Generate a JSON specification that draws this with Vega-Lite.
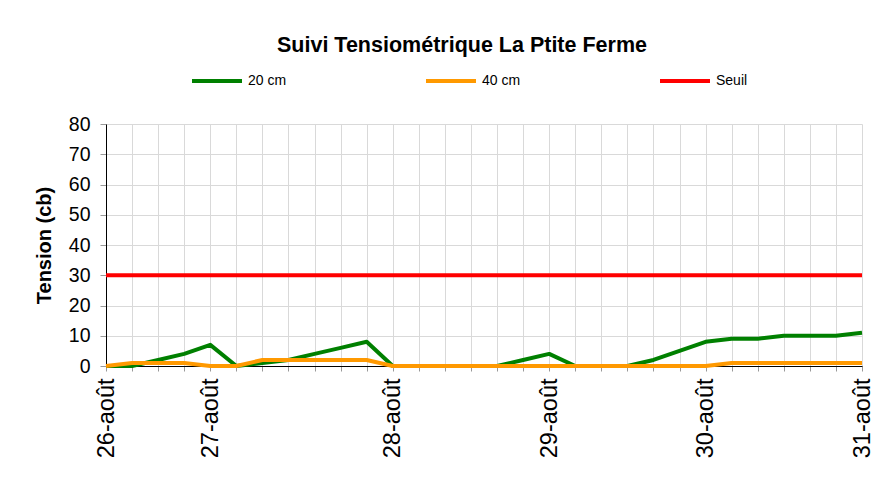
{
  "$schema": "https://vega.github.io/schema/vega-lite/v6.json",
  "autosize": "none",
  "width": 756,
  "height": 242,
  "padding": {"left": 106, "top": 124, "right": 26, "bottom": 133},
  "background": "white",
  "title": {
    "text": "Suivi Tensiométrique La Ptite Ferme",
    "font": "Liberation Sans",
    "fontSize": 21.5,
    "fontWeight": "bold",
    "color": "black",
    "anchor": "middle",
    "dx": -22,
    "offset": -2
  },
  "config": {
    "font": "Liberation Sans",
    "view": {"stroke": null}
  },
  "data": {
    "values": [
      {"i": 0, "20 cm": 0, "40 cm": 0, "Seuil": 30},
      {"i": 1, "20 cm": 0, "40 cm": 1, "Seuil": 30},
      {"i": 2, "20 cm": 2, "40 cm": 1, "Seuil": 30},
      {"i": 3, "20 cm": 4, "40 cm": 1, "Seuil": 30},
      {"i": 4, "20 cm": 7, "40 cm": 0, "Seuil": 30},
      {"i": 5, "20 cm": 0, "40 cm": 0, "Seuil": 30},
      {"i": 6, "20 cm": 1, "40 cm": 2, "Seuil": 30},
      {"i": 7, "20 cm": 2, "40 cm": 2, "Seuil": 30},
      {"i": 8, "20 cm": 4, "40 cm": 2, "Seuil": 30},
      {"i": 9, "20 cm": 6, "40 cm": 2, "Seuil": 30},
      {"i": 10, "20 cm": 8, "40 cm": 2, "Seuil": 30},
      {"i": 11, "20 cm": 0, "40 cm": 0, "Seuil": 30},
      {"i": 12, "20 cm": 0, "40 cm": 0, "Seuil": 30},
      {"i": 13, "20 cm": 0, "40 cm": 0, "Seuil": 30},
      {"i": 14, "20 cm": 0, "40 cm": 0, "Seuil": 30},
      {"i": 15, "20 cm": 0, "40 cm": 0, "Seuil": 30},
      {"i": 16, "20 cm": 2, "40 cm": 0, "Seuil": 30},
      {"i": 17, "20 cm": 4, "40 cm": 0, "Seuil": 30},
      {"i": 18, "20 cm": 0, "40 cm": 0, "Seuil": 30},
      {"i": 19, "20 cm": 0, "40 cm": 0, "Seuil": 30},
      {"i": 20, "20 cm": 0, "40 cm": 0, "Seuil": 30},
      {"i": 21, "20 cm": 2, "40 cm": 0, "Seuil": 30},
      {"i": 22, "20 cm": 5, "40 cm": 0, "Seuil": 30},
      {"i": 23, "20 cm": 8, "40 cm": 0, "Seuil": 30},
      {"i": 24, "20 cm": 9, "40 cm": 1, "Seuil": 30},
      {"i": 25, "20 cm": 9, "40 cm": 1, "Seuil": 30},
      {"i": 26, "20 cm": 10, "40 cm": 1, "Seuil": 30},
      {"i": 27, "20 cm": 10, "40 cm": 1, "Seuil": 30},
      {"i": 28, "20 cm": 10, "40 cm": 1, "Seuil": 30},
      {"i": 29, "20 cm": 11, "40 cm": 1, "Seuil": 30}
    ]
  },
  "transform": [
    {"fold": ["20 cm", "40 cm", "Seuil"], "as": ["serie", "tension"]}
  ],
  "mark": {"type": "line", "strokeWidth": 4, "strokeJoin": "round"},
  "encoding": {
    "x": {
      "field": "i",
      "type": "quantitative",
      "scale": {"domain": [0, 29], "nice": false, "zero": false},
      "axis": {
        "title": null,
        "values": [0,1,2,3,4,5,6,7,8,9,10,11,12,13,14,15,16,17,18,19,20,21,22,23,24,25,26,27,28,29],
        "labelExpr": "datum.value==0?'26-août':datum.value==4?'27-août':datum.value==11?'28-août':datum.value==17?'29-août':datum.value==23?'30-août':datum.value==29?'31-août':''",
        "labelAngle": -90,
        "labelFontSize": 23.5,
        "labelColor": "black",
        "labelPadding": 7,
        "labelFlush": false,
        "labelOverlap": false,
        "tickSize": 5,
        "tickColor": "#999999",
        "domainColor": "black",
        "domainWidth": 1,
        "gridColor": "#d9d9d9",
        "grid": true
      }
    },
    "y": {
      "field": "tension",
      "type": "quantitative",
      "scale": {"domain": [0, 80], "nice": false},
      "axis": {
        "title": "Tension (cb)",
        "titleFontSize": 20,
        "titleFontWeight": "bold",
        "titleColor": "black",
        "titlePadding": 14,
        "values": [0,10,20,30,40,50,60,70,80],
        "labelFontSize": 19.5,
        "labelColor": "black",
        "labelPadding": 10,
        "tickSize": 6,
        "tickColor": "#999999",
        "domainColor": "black",
        "gridColor": "#d9d9d9",
        "grid": true
      }
    },
    "color": {
      "field": "serie",
      "type": "nominal",
      "scale": {"domain": ["20 cm", "40 cm", "Seuil"], "range": ["#008000", "#FF9900", "#FF0000"]},
      "legend": {
        "title": null,
        "orient": "none",
        "legendX": 84,
        "legendY": -70,
        "direction": "horizontal",
        "symbolType": "stroke",
        "symbolStrokeWidth": 4,
        "symbolSize": 2500,
        "labelFontSize": 14,
        "labelColor": "black",
        "labelOffset": 4,
        "gridAlign": "all",
        "columnPadding": 131
      }
    }
  }
}
